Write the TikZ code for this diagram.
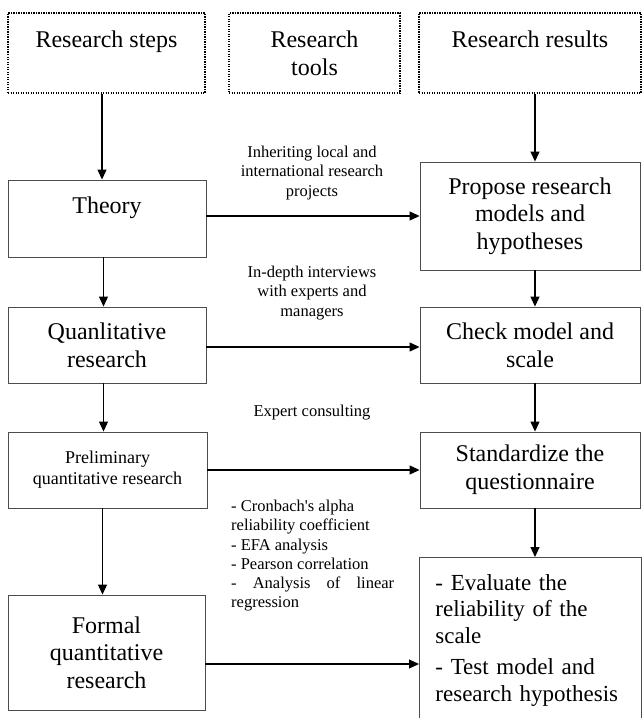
\documentclass[tikz,border=0pt]{standalone}
\usepackage{fontspec}
\setmainfont{Liberation Serif}
\usetikzlibrary{arrows.meta}

\begin{document}
\begin{tikzpicture}[x=1pt, y=-1pt,
  head/.style={draw, line width=1.5pt, dash pattern=on 1.2pt off 1.3pt, align=center,
    font=\fontsize{24}{27.6}\selectfont, inner sep=0pt, minimum height=80pt},
  stepbox/.style={draw=black!70, line width=0.9pt, align=center,
    font=\fontsize{24}{27.6}\selectfont, inner sep=0pt},
  tool/.style={align=center, font=\fontsize{16.5}{19.2}\selectfont, inner sep=0pt},
  flow/.style={-{Triangle[length=10pt, width=9pt]}, line width=1.1pt}]

  \useasboundingbox (0,0) rectangle (642,718);

  % column heads
  \node[head, minimum width=197pt] (steps) at (106.5,53) {Research steps\\\mbox{}};
  \node[head, minimum width=171pt] (tools) at (314.5,53) {Research\\tools};
  \node[head, minimum width=222pt] (results) at (530,53) {Research results\\\mbox{}};

  % research steps
  \node[stepbox, minimum width=198pt, minimum height=77pt] (theory) at (107,218.5) {Theory\\\mbox{}};
  \node[stepbox, minimum width=198pt, minimum height=76pt] (qual) at (107,345) {Quanlitative\\research};
  \node[stepbox, minimum width=199pt, minimum height=76pt, font=\fontsize{18}{21}\selectfont] (prelim) at (107.5,470) {Preliminary\\quantitative research};
  \node[stepbox, minimum width=197pt, minimum height=115pt] (formal) at (106.5,652.5) {Formal\\quantitative\\research};

  % research results
  \node[stepbox, minimum width=220pt, minimum height=108pt] (propose) at (530,216) {Propose research\\models and\\hypotheses};
  \node[stepbox, minimum width=220pt, minimum height=76pt] (check) at (530,345) {Check model and\\scale};
  \node[stepbox, minimum width=220pt, minimum height=76pt] (stand) at (530,470) {Standardize the\\questionnaire};
  \node[stepbox, anchor=north west, minimum width=222pt, minimum height=166pt, text width=190pt,
    align=left, inner xsep=16pt, font=\fontsize{23}{26.5}\selectfont] (final) at (419,557)
    {- Evaluate the\\reliability of the\\scale\\[5pt]- Test model and\\research hypothesis};

  % research tools
  \node[tool] (inherit) at (312,173) {Inheriting local and\\international research\\projects};
  \node[tool] (interview) at (312,293) {In-depth interviews\\with experts and\\managers};
  \node[tool] (consult) at (312,413) {Expert consulting};
  \node[tool, align=left, anchor=north west] (analysis) at (231,500)
    {- Cronbach\textquotesingle s alpha\\reliability coefficient\\- EFA analysis\\- Pearson correlation\\\makebox[163pt][s]{- Analysis of linear}\\regression};

  % down the columns
  \draw[flow] ([xshift=-4.5pt]steps.south) -- ([xshift=-4.5pt]steps.south |- theory.north);
  \draw[flow] ([xshift=-3.5pt]theory.south) -- ([xshift=-3.5pt]theory.south |- qual.north);
  \draw[flow] ([xshift=-3.5pt]qual.south) -- ([xshift=-3.5pt]qual.south |- prelim.north);
  \draw[flow] ([xshift=-5pt]prelim.south) -- ([xshift=-5pt]prelim.south |- formal.north);

  \draw[flow] ([xshift=5pt]results.south) -- ([xshift=5pt]results.south |- propose.north);
  \draw[flow] ([xshift=5pt]propose.south) -- ([xshift=5pt]propose.south |- check.north);
  \draw[flow] ([xshift=5pt]check.south) -- ([xshift=5pt]check.south |- stand.north);
  \draw[flow] ([xshift=5pt]stand.south) -- ([xshift=5pt]stand.south |- final.north);

  % across
  \draw[flow] (theory.east |- propose.west) -- (propose.west);
  \draw[flow] ([yshift=-2pt]qual.east) -- ([yshift=-2pt]qual.east -| check.west);
  \draw[flow] (prelim.east) -- (stand.west);
  \draw[flow] ([yshift=-11.5pt]formal.east) -- ([yshift=-11.5pt]formal.east -| final.west);

\end{tikzpicture}
\end{document}
